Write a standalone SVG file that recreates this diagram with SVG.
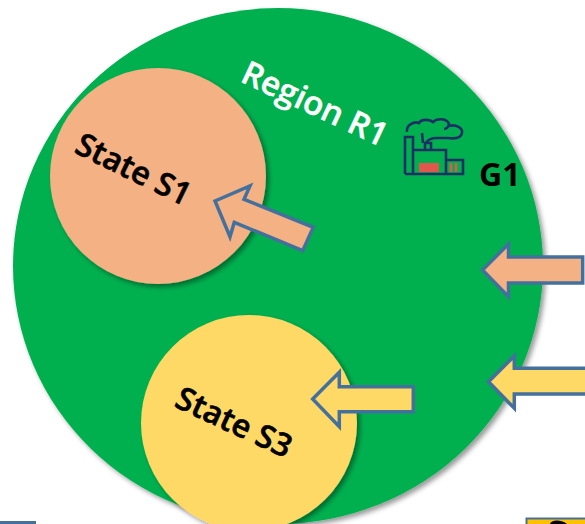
<svg xmlns="http://www.w3.org/2000/svg" width="585" height="524" viewBox="0 0 585 524">
<style>
.lbl{font-family:"Open Sans","Liberation Sans",sans-serif;font-weight:600}
.state{font-size:32px;fill:#000;stroke:#000;stroke-width:.6}
.arrow{stroke:#44709d;stroke-width:3.5;stroke-linejoin:miter}
.peach{fill:#f4b183}
.yellow{fill:#ffd966}
.ic{fill:none;stroke:#1f2f66;stroke-width:2.6}
</style>
<defs>
<filter id="sh" x="-10%" y="-10%" width="120%" height="120%">
<feDropShadow dx="3" dy="3" stdDeviation="2.5" flood-color="#000" flood-opacity=".4"/>
</filter>
</defs>
<rect width="585" height="524" fill="#fff"/>
<g id="region-r1">
<ellipse cx="278" cy="266" rx="265" ry="258" fill="#00b050" filter="url(#sh)"/>
<text class="lbl" x="239" y="81" font-size="33" fill="#fff" stroke="#fff" stroke-width=".4" transform="rotate(25 239 81)">Region R1</text>
</g>
<g id="state-s1">
<circle class="peach" cx="158" cy="176" r="108" filter="url(#sh)"/>
<text class="lbl state" x="73" y="152" transform="rotate(26 73 152)">State S1</text>
</g>
<g id="state-s3">
<circle class="yellow" cx="249" cy="423" r="108" filter="url(#sh)"/>
<text class="lbl state" x="173" y="406" transform="rotate(25 173 406)">State S3</text>
</g>
<g id="g1">
<path class="ic" d="M405 174V137H413V174M405 174H463V160H446V174M413 150H446V174M425 150V143H431V150"/>
<path class="ic" d="M407 132C406 125 414 121 419 123C421 119 430 119 433 122C437 118 447 118 449 124C448 128 446 129 444 129M449 126C456 124 463 128 462 133C461 138 455 139 448 138H437C429 138 427 141 426 143M423 143L422 133"/>
<rect x="419" y="163" width="20" height="9" fill="#e2574c"/>
<path d="M451 163V172M456 163V172" stroke="#e2574c" stroke-width="2.500"/>
<text x="479" y="186" font-size="32" font-weight="700" font-family="Open Sans, Liberation Sans, sans-serif" fill="#000">G1</text>
</g>
<g id="connectors">
<path class="arrow peach" d="M215 201L250 186L244 199.3L313.3 227.3L302.7 250.7L234.3 222.3L230 236.7Z"/>
<path class="arrow yellow" d="M312.7 399L339.3 372.3V386.7H413.3V411.7H339.3V426.7Z"/>
<path class="arrow peach" d="M482.5 270L508.5 244V257H582.7V283H508.5V296.7Z"/>
<path class="arrow yellow" d="M488.5 381.7L514.3 356V368.3H590V394H514.3V408.3Z"/>
</g>
<g id="cropped-edges">
<rect x="0" y="521" width="36" height="3" fill="#44709d"/>
<rect x="526" y="518" width="59" height="6" fill="#ffc000"/>
<path d="M526.500 524V518.500H585" fill="none" stroke="#44709d" stroke-width="2"/>
<path d="M550 524C551 520 560 519 567 524Z" fill="#000"/>
</g>
</svg>
